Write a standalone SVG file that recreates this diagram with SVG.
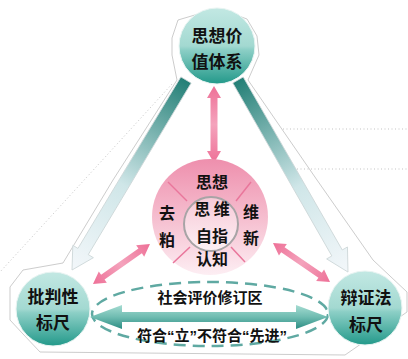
<svg xmlns="http://www.w3.org/2000/svg" width="408" height="359" viewBox="0 0 408 359">
<defs>
<style>
.t{font-family:"Noto Sans CJK SC","Noto Sans CJK JP",sans-serif;font-weight:700;fill:#111;text-anchor:middle}
.n{font-size:17px}
.c{font-size:16px}
.b{font-size:15px}
.q{font-family:"Liberation Sans",sans-serif;font-weight:700}
.faint{fill:none;stroke:#aaa;stroke-width:0.6}
.dot{fill:none;stroke:#aaa;stroke-width:0.7;stroke-dasharray:1 2.5}
</style>
<linearGradient id="teal" x1="0" y1="0" x2="0" y2="1">
<stop offset="0" stop-color="#c2e8e3"/>
<stop offset="0.5" stop-color="#a3d9d1"/>
<stop offset="0.55" stop-color="#8ccfc6"/>
<stop offset="1" stop-color="#23998a"/>
</linearGradient>
<linearGradient id="pink" x1="0" y1="0" x2="0" y2="1">
<stop offset="0" stop-color="#ee8fad"/>
<stop offset="0.55" stop-color="#f6c2d2"/>
<stop offset="1" stop-color="#fdeef3"/>
</linearGradient>
<linearGradient id="pinkIn" x1="0" y1="0" x2="0" y2="1">
<stop offset="0" stop-color="#f7c9d7"/>
<stop offset="1" stop-color="#fdf0f4"/>
</linearGradient>
<linearGradient id="pArrow" x1="0" y1="0" x2="1" y2="0">
<stop offset="0" stop-color="#ee7097"/>
<stop offset="0.5" stop-color="#f4a3bc"/>
<stop offset="1" stop-color="#ee7097"/>
</linearGradient>
<linearGradient id="diagL" gradientUnits="userSpaceOnUse" x1="0" y1="0" x2="222" y2="0">
<stop offset="0" stop-color="#237f76"/>
<stop offset="0.55" stop-color="#cfe6e8"/>
<stop offset="1" stop-color="#f3f7fa"/>
</linearGradient>
<linearGradient id="hArrow" x1="0" y1="0" x2="0" y2="1">
<stop offset="0" stop-color="#a6dcd2"/>
<stop offset="0.5" stop-color="#6fbcb1"/>
<stop offset="1" stop-color="#2c8d83"/>
</linearGradient>
</defs>

<g id="outline">
<polygon class="faint" points="177,80 172,55 172,38 178,20 205,12 225,11 247,19 257,36 259,55 248,80 317,180 373,260 407,292 407,312 345,355 40,352 23,334 10,320 10,287 23,270 63,263 113,180"/>
<line class="dot" x1="172" y1="84" x2="0" y2="272"/>
<line class="dot" x1="283" y1="129" x2="408" y2="129"/>
<line class="dot" x1="283" y1="169" x2="408" y2="169"/>
</g>

<g id="connectors">
<polygon transform="translate(186,80) rotate(120.96)" fill="url(#diagL)" stroke="#cdd6d8" stroke-width="0.8" points="0,-6 200,-6 200,-12 221.6,0 200,12 200,6 0,6"/>
<polygon transform="translate(238,80) rotate(60.2)" fill="url(#diagL)" stroke="#cdd6d8" stroke-width="0.8" points="0,-6 199.3,-6 199.3,-12 221.3,0 199.3,12 199.3,6 0,6"/>
<polygon transform="translate(214,86) rotate(90)" fill="url(#pArrow)" points="0,0 12,-7 12,-3.5 65,-3.5 65,-7 77,0 65,7 65,3.5 12,3.5 12,7"/>
<polygon transform="translate(93,284) rotate(-35.06)" fill="url(#pArrow)" points="0,0 12,-7 12,-3 57.6,-3 57.6,-7 69.6,0 57.6,7 57.6,3 12,3 12,7"/>
<polygon transform="translate(273,243) rotate(34.4)" fill="url(#pArrow)" points="0,0 12,-7 12,-3 57.1,-3 57.1,-7 69.1,0 57.1,7 57.1,3 12,3 12,7"/>
<ellipse cx="210" cy="314" rx="118" ry="32" fill="none" stroke="#5fa9a2" stroke-width="2.5" stroke-dasharray="12 7"/>
<polygon fill="url(#hArrow)" points="90,317 122,305 122,312 296,312 296,305 328,317 296,329 296,322 122,322 122,329"/>
<text class="t b" x="210" y="303">社会评价修订区</text>
<text class="t b" x="212" y="341">符合<tspan class="q">“</tspan>立<tspan class="q">”</tspan>不符合<tspan class="q">“</tspan>先进<tspan class="q">”</tspan></text>
</g>

<g id="node-top">
<circle cx="217" cy="46" r="38" fill="url(#teal)" stroke="#e8f4f2" stroke-width="1"/>
<text class="t n" x="217" y="42">思想价</text>
<text class="t n" x="217" y="68">值体系</text>
</g>

<g id="node-left">
<circle cx="53" cy="309" r="37" fill="url(#teal)" stroke="#e8f4f2" stroke-width="1"/>
<text class="t n" x="53" y="303">批判性</text>
<text class="t n" x="53" y="329">标尺</text>
</g>

<g id="node-right">
<circle cx="365" cy="308" r="37" fill="url(#teal)" stroke="#e8f4f2" stroke-width="1"/>
<text class="t n" x="366" y="304">辩证法</text>
<text class="t n" x="366" y="331">标尺</text>
</g>

<g id="node-center">
<circle cx="210" cy="217" r="58" fill="url(#pink)"/>
<g stroke="#e9769b" stroke-width="1.5">
<line x1="168" y1="182" x2="187" y2="201"/>
<line x1="251" y1="182" x2="236" y2="201"/>
<line x1="190" y1="247" x2="173" y2="263"/>
<line x1="231" y1="247" x2="245" y2="262"/>
</g>
<circle cx="211" cy="224" r="27" fill="url(#pinkIn)" stroke="#a8a4a6" stroke-width="2"/>
<text class="t c" x="212" y="188">思想</text>
<text class="t c" x="212" y="215">思 维</text>
<text class="t c" x="212" y="242">自指</text>
<text class="t c" x="212" y="265">认知</text>
<text class="t c" x="167" y="219">去</text>
<text class="t c" x="167" y="246">粕</text>
<text class="t c" x="251" y="218">维</text>
<text class="t c" x="251" y="244">新</text>
</g>
</svg>
